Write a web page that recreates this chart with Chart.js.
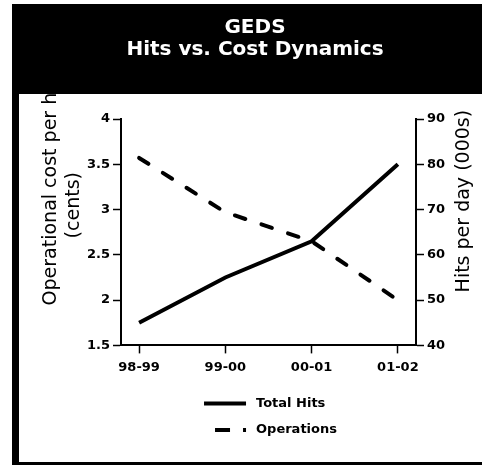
<!DOCTYPE html>
<html>
<head>
<meta charset="utf-8">
<script src="https://cdn.jsdelivr.net/npm/chart.js@4"></script>
<style>
  html, body { margin: 0; padding: 0; background: #fff; }
  #wrap { width: 482px; height: 465px; }
</style>
</head>
<body>
<div id="wrap"><canvas id="chart" width="482" height="465"></canvas></div>
<script>
// chart data
const periods = ['98-99', '99-00', '00-01', '01-02'];
const totalHits = [45, 55, 63, 80];          // hits per day, 000s (right axis)
const operations = [3.57, 2.97, 2.65, 2.0];  // cost per hit, cents (left axis)
const costTicks = [1.5, 2, 2.5, 3, 3.5, 4];
const hitTicks = [40, 50, 60, 70, 80, 90];
const chartTitle = ['GEDS', 'Hits vs. Cost Dynamics'];
const costTitle = ['Operational cost per hit', '(cents)'];
const hitsTitle = 'Hits per day (000s)';

const FONT = '"DejaVu Sans", sans-serif';
Chart.defaults.font.family = FONT;
Chart.defaults.color = '#000';

function drawUp(ctx, text, x, y) {
  ctx.save();
  ctx.translate(x, y);
  ctx.rotate(-Math.PI / 2);
  ctx.fillText(text, 0, 0);
  ctx.restore();
}

// black title band + frame, rotated axis titles and a stacked legend
const framePlugin = {
  id: 'frame',
  beforeDraw(chart) {
    const ctx = chart.ctx;
    ctx.save();
    ctx.fillStyle = '#fff';
    ctx.fillRect(0, 0, chart.width, chart.height);
    ctx.fillStyle = '#000';
    ctx.fillRect(12, 4, chart.width - 12, chart.height - 4);
    ctx.fillStyle = '#fff';
    ctx.fillRect(19, 94, chart.width - 19, chart.height - 97);
    ctx.restore();
  },
  afterDraw(chart) {
    const ctx = chart.ctx;
    const { left, right, bottom } = chart.chartArea;
    ctx.save();
    ctx.fillStyle = '#000';
    ctx.textBaseline = 'middle';
    ctx.textAlign = 'left';
    ctx.font = '19px ' + FONT;
    drawUp(ctx, costTitle[0], left - 70, bottom - 40);
    drawUp(ctx, costTitle[1], left - 47, bottom - 107);
    drawUp(ctx, hitsTitle, right + 48, bottom - 53);

    // legend, one item per row
    const items = chart.data.datasets;
    ctx.font = 'bold 13px ' + FONT;
    const textW = Math.max(...items.map((d) => ctx.measureText(d.label).width));
    const sampleW = 42, gap = 10;
    const x0 = (left + right) / 2 - (sampleW + gap + textW) / 2 + 2;
    items.forEach((ds, i) => {
      const y = bottom + 58 + i * 26.5;
      ctx.save();
      ctx.strokeStyle = ds.borderColor;
      ctx.lineWidth = ds.borderWidth;
      ctx.lineCap = 'butt';
      if (ds.borderDash) {
        ctx.setLineDash([15, 13]);
        ctx.lineDashOffset = 17;
      }
      ctx.beginPath();
      ctx.moveTo(x0, y);
      ctx.lineTo(x0 + sampleW, y);
      ctx.stroke();
      ctx.restore();
      ctx.fillText(ds.label, x0 + sampleW + gap, y);
    });
    ctx.restore();
  }
};

const axisGrid = { drawOnChartArea: false, tickLength: 8, tickColor: '#000', tickWidth: 1.5 };
const axisBorder = { color: '#000', width: 2 };
const tickFont = { size: 13, weight: 'bold' };

new Chart(document.getElementById('chart'), {
  type: 'line',
  data: {
    datasets: [
      {
        label: 'Total Hits',
        data: totalHits.map((v, i) => ({ x: i, y: v })),
        yAxisID: 'hits',
        borderColor: '#000',
        borderWidth: 4,
        pointRadius: 0,
        tension: 0
      },
      {
        label: 'Operations',
        data: operations.map((v, i) => ({ x: i, y: v })),
        yAxisID: 'cost',
        borderColor: '#000',
        borderWidth: 4,
        borderDash: [11, 17],
        borderCapStyle: 'round',
        pointRadius: 0,
        tension: 0
      }
    ]
  },
  options: {
    responsive: false,
    animation: false,
    devicePixelRatio: 1,
    layout: { padding: { left: 28, right: 0, bottom: 84 } },
    plugins: {
      legend: { display: false },
      tooltip: { enabled: false },
      title: {
        display: true,
        text: chartTitle,
        color: '#fff',
        font: { size: 20, weight: 'bold', lineHeight: 1.1 },
        padding: { top: 17, bottom: 58 }
      }
    },
    scales: {
      x: {
        type: 'linear',
        min: -0.21,
        max: 3.21,
        afterBuildTicks: (s) => { s.ticks = periods.map((_, i) => ({ value: i })); },
        ticks: { callback: (v) => periods[v], font: tickFont, padding: 6, maxRotation: 0 },
        grid: axisGrid,
        border: axisBorder
      },
      cost: {
        position: 'left',
        min: 1.5,
        max: 4,
        afterBuildTicks: (s) => { s.ticks = costTicks.map((v) => ({ value: v })); },
        afterFit: (s) => { s.width = 93; },
        ticks: { callback: (v) => String(v), font: tickFont, padding: 3 },
        grid: axisGrid,
        border: axisBorder
      },
      hits: {
        position: 'right',
        min: 40,
        max: 90,
        afterBuildTicks: (s) => { s.ticks = hitTicks.map((v) => ({ value: v })); },
        afterFit: (s) => { s.width = 66; },
        ticks: { callback: (v) => String(v), font: tickFont, padding: 3 },
        grid: axisGrid,
        border: axisBorder
      }
    }
  },
  plugins: [framePlugin]
});
</script>
</body>
</html>
